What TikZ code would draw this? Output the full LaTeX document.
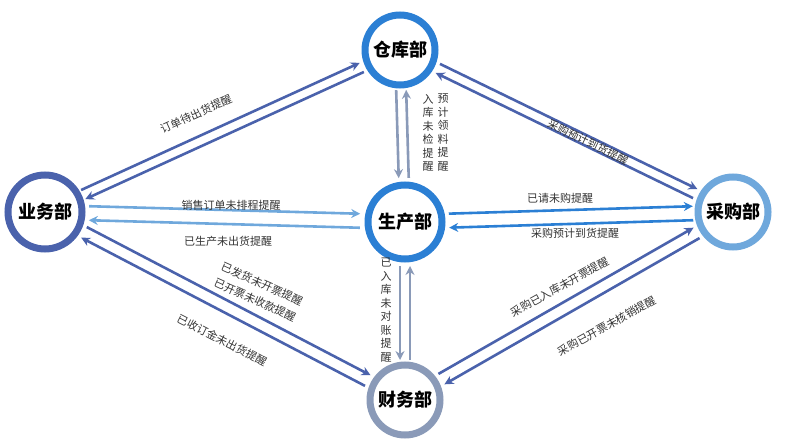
\documentclass[tikz,border=0pt]{standalone}
\usepackage{fontspec}
\newfontfamily\cjk{Noto Sans CJK SC}
\usetikzlibrary{calc,arrows.meta}
\definecolor{cA}{HTML}{4A62AC}
\definecolor{cB}{HTML}{2B7FD4}
\definecolor{cC}{HTML}{6FA8DC}
\definecolor{cG}{HTML}{8A9AB8}
\definecolor{txt}{HTML}{333333}
\newcommand\conn[6]{%
 \path ($(#1)!#4!(#2)$) coordinate (tmpS) ($(#2)!#5!(#1)$) coordinate (tmpE);
 \draw[#3] ($(tmpS)!#6!90:(#2)$) -- ($(tmpE)!#6!-90:(#1)$);}
\begin{document}
\begin{tikzpicture}[x=1pt,y=-1pt,
  dept/.style={circle,draw,line width=7pt,fill=white,minimum size=70pt,inner sep=0pt,font=\cjk\bfseries\fontsize{18}{18}\selectfont},
  ln/.style={line width=2.6pt,-{Stealth[length=9pt,width=9pt]}},
  lbl/.style={font=\cjk\fontsize{11}{12}\selectfont,text=txt,inner sep=1pt},
  vlbl/.style={lbl,align=center,font=\cjk\fontsize{11}{13.5}\selectfont}]
\useasboundingbox (0,0) rectangle (792,441);
\node[dept,draw=cB] (ck) at (400,50) {仓库部};
\node[dept,draw=cA,minimum size=74pt] (yw) at (45,212) {业务部};
\node[dept,draw=cB,minimum size=74pt] (sc) at (405,222) {生产部};
\node[dept,draw=cC] (cg) at (733,212) {采购部};
\node[dept,draw=cG] (cw) at (405,400) {财务部};
% 业务 - 仓库
\conn{yw}{ck}{ln,cA}{42pt}{42pt}{5pt}
\conn{ck}{yw}{ln,cA}{42pt}{42pt}{5pt}
% 仓库 - 采购
\conn{ck}{cg}{ln,cA}{42pt}{42pt}{5pt}
\conn{cg}{ck}{ln,cA}{42pt}{42pt}{5pt}
% 业务 - 生产
\conn{yw}{sc}{ln,cC}{44pt}{45pt}{7pt}
\conn{sc}{yw}{ln,cC}{45pt}{44pt}{7pt}
% 生产 - 采购
\conn{sc}{cg}{ln,cB}{44pt}{40pt}{7pt}
\conn{cg}{sc}{ln,cB}{40pt}{44pt}{7pt}
% 仓库 - 生产
\conn{ck}{sc}{ln,cG}{40pt}{44pt}{-5pt}
\conn{sc}{ck}{ln,cG}{44pt}{40pt}{-5pt}
% 生产 - 财务
\conn{sc}{cw}{ln,cG}{44pt}{40pt}{-5pt}
\conn{cw}{sc}{ln,cG}{40pt}{44pt}{-5pt}
% 业务 - 财务
\conn{yw}{cw}{ln,cA}{44pt}{42pt}{6pt}
\conn{cw}{yw}{ln,cA}{42pt}{44pt}{6pt}
% 财务 - 采购
\conn{cw}{cg}{ln,cA}{42pt}{42pt}{6pt}
\conn{cg}{cw}{ln,cA}{42pt}{42pt}{6pt}
% labels
\node[lbl,rotate=24.5] (l1) at (196,114) {订单待出货提醒};
\node[lbl,rotate=-26] (l2) at (588,142) {采购预计到货提醒};
\node[vlbl,anchor=north] (l3) at (428,93) {入\\库\\未\\检\\提\\醒};
\node[vlbl,anchor=north] (l4) at (443,93) {预\\计\\领\\料\\提\\醒};
\node[vlbl,anchor=north] (l5) at (386,257) {已\\入\\库\\未\\对\\账\\提\\醒};
\node[lbl] (l6) at (231,205) {销售订单未排程提醒};
\node[lbl] (l7) at (228,241) {已生产未出货提醒};
\node[lbl] (l8) at (560,198) {已请未购提醒};
\node[lbl] (l9) at (575,233) {采购预计到货提醒};
\node[lbl,rotate=-24] (l10) at (262,284) {已发货未开票提醒};
\node[lbl,rotate=-24] (l11) at (255,300) {已开票未收款提醒};
\node[lbl,rotate=-27] (l12) at (222,340) {已收订金未出货提醒};
\node[lbl,rotate=29] (l13) at (560,287) {采购已入库未开票提醒};
\node[lbl,rotate=29] (l14) at (607,326) {采购已开票未核销提醒};
\end{tikzpicture}
\end{document}
